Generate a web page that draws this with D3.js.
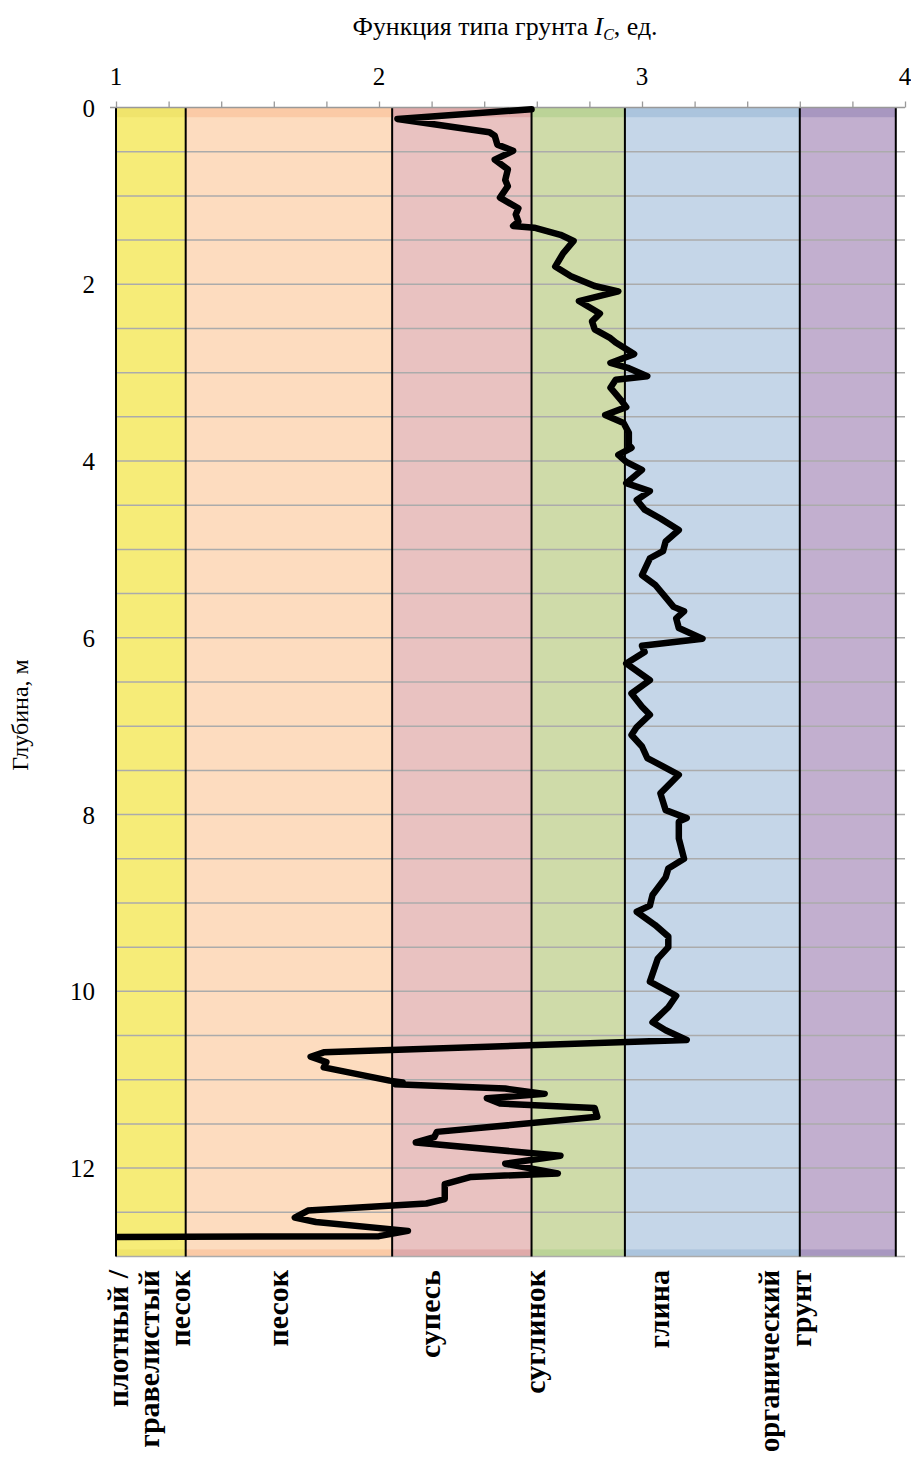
<!DOCTYPE html>
<html><head><meta charset="utf-8">
<script src="https://cdn.jsdelivr.net/npm/d3@7/dist/d3.min.js"></script>
<style>body{margin:0;background:#fff} svg{display:block}</style>
</head><body>
<svg id="c" width="911" height="1457"></svg>
<script>
// ---------- data ----------
const depth = [0.02,0.13,0.28,0.32,0.42,0.49,0.59,0.70,0.82,0.89,1.02,1.14,1.21,1.29,1.34,1.36,1.44,1.51,1.65,1.80,1.91,2.02,2.08,2.19,2.33,2.42,2.51,2.61,2.66,2.79,2.89,2.95,3.04,3.08,3.17,3.31,3.39,3.48,3.57,3.68,3.82,3.85,3.93,4.01,4.10,4.25,4.34,4.44,4.55,4.65,4.78,4.91,5.02,5.10,5.29,5.40,5.65,5.70,5.78,5.89,6.01,6.09,6.16,6.29,6.48,6.63,6.78,6.87,7.01,7.10,7.23,7.36,7.55,7.76,7.95,8.04,8.08,8.27,8.50,8.61,8.71,8.91,9.03,9.10,9.25,9.38,9.50,9.63,9.89,10.05,10.18,10.35,10.44,10.55,10.69,10.74,10.80,10.86,11.01,11.03,11.05,11.10,11.16,11.21,11.27,11.32,11.42,11.53,11.59,11.65,11.71,11.86,11.95,12.06,12.10,12.18,12.35,12.40,12.48,12.56,12.61,12.71,12.77,12.78];
const icValues = [2.58,2.07,2.42,2.44,2.45,2.51,2.44,2.49,2.48,2.49,2.46,2.53,2.52,2.53,2.51,2.59,2.69,2.74,2.70,2.67,2.73,2.82,2.91,2.76,2.84,2.81,2.82,2.88,2.90,2.97,2.88,2.95,3.02,2.90,2.88,2.92,2.94,2.86,2.93,2.95,2.95,2.96,2.91,2.94,3.00,2.94,3.03,2.98,3.01,3.07,3.14,3.09,3.08,3.03,3.00,3.05,3.12,3.16,3.13,3.14,3.23,3.00,3.01,2.94,3.03,2.96,3.00,3.03,2.98,2.96,3.00,3.02,3.14,3.07,3.09,3.17,3.14,3.14,3.16,3.10,3.09,3.04,3.03,2.98,3.05,3.10,3.10,3.06,3.03,3.13,3.10,3.04,3.09,3.17,1.79,1.74,1.80,1.79,2.04,2.09,2.06,2.48,2.63,2.41,2.46,2.82,2.83,2.44,2.22,2.21,2.14,2.69,2.48,2.68,2.35,2.25,2.25,2.18,1.73,1.68,1.76,2.11,2.00,0.98];
const zoneBounds = [1, 1.265, 2.05, 2.58, 2.935, 3.6, 3.965];
const zoneFill = ["#F6EC78","#FDDCBF","#E9C2C1","#CFDBA9","#C5D6E8","#C2AFCF"];
const zoneBand = ["#F0E46C","#FBCAA6","#DFAAA9","#BBD397","#ABC4DD","#A897C0"];
const zoneLabels = [["плотный /","гравелистый","песок"],["песок"],["супесь"],["суглинок"],["глина"],["органический","грунт"]];
const xTickLabels = [1,2,3,4];
const yTickLabels = [0,2,4,6,8,10,12];
const gridDepths = d3.range(0.5, 13.01, 0.5);

// ---------- layout ----------
const serif = "'Liberation Serif','Times New Roman',serif";
const svg = d3.select("#c");
const x = d3.scaleLinear().domain([1,4]).range([116,905]);
const y = d3.scaleLinear().domain([0,13]).range([107.5,1256.5]);

// zones
const zones = d3.range(zoneFill.length).map(i => ({a: zoneBounds[i], b: zoneBounds[i+1], f: zoneFill[i], band: zoneBand[i]}));
svg.append("g").selectAll("rect").data(zones).join("rect")
  .attr("x", d => x(d.a)).attr("width", d => x(d.b) - x(d.a))
  .attr("y", y(0)).attr("height", y(13) - y(0)).attr("fill", d => d.f);
svg.append("g").selectAll("rect").data(zones).join("rect")
  .attr("x", d => x(d.a)).attr("width", d => x(d.b) - x(d.a))
  .attr("y", y(0)).attr("height", y(0.11) - y(0)).attr("fill", d => d.band);
svg.append("g").selectAll("rect").data(zones).join("rect")
  .attr("x", d => x(d.a)).attr("width", d => x(d.b) - x(d.a))
  .attr("y", y(12.92)).attr("height", y(13) - y(12.92)).attr("fill", d => d.band);

// gridlines
svg.append("g").selectAll("line").data(gridDepths).join("line")
  .attr("x1", x(1)).attr("x2", x(4)).attr("y1", d => y(d)).attr("y2", d => y(d))
  .attr("stroke", "#ABABAB").attr("stroke-width", 1.5);

// zone borders
svg.append("g").selectAll("line").data(zoneBounds).join("line")
  .attr("x1", d => x(d)).attr("x2", d => x(d)).attr("y1", y(0)).attr("y2", y(13))
  .attr("stroke", "#000").attr("stroke-width", 2);

// top axis
const xAxis = d3.axisTop(x).tickValues(d3.range(1, 4.001, 0.2)).tickSize(6).tickFormat("");
const gx = svg.append("g").attr("transform", `translate(0,${y(0)})`).call(xAxis);
gx.select(".domain").attr("stroke", "#999").attr("stroke-width", 1.5).attr("d", `M${x(1)-6},0H${x(4)}`);
gx.selectAll(".tick line").attr("stroke", "#999").attr("stroke-width", 1.3);
svg.append("g").selectAll("text").data(xTickLabels).join("text")
  .attr("x", d => x(d)).attr("y", 85).attr("text-anchor", "middle")
  .attr("font-family", serif).attr("font-size", 25).text(d => d);

// left axis labels
svg.append("g").selectAll("text").data(yTickLabels).join("text")
  .attr("x", 95).attr("y", d => y(d) + 9).attr("text-anchor", "end")
  .attr("font-family", serif).attr("font-size", 25).text(d => d);

// curve
svg.append("clipPath").attr("id", "clip").append("rect")
  .attr("x", x(1)).attr("y", y(0) - 5).attr("width", x(4) - x(1)).attr("height", y(13) - y(0) + 10);
const pts = depth.map((d, i) => ({d, v: icValues[i]}));
svg.append("path").datum(pts).attr("clip-path", "url(#clip)")
  .attr("d", d3.line().x(p => x(p.v)).y(p => y(p.d)))
  .attr("fill", "none").attr("stroke", "#000").attr("stroke-width", 6.5)
  .attr("stroke-linejoin", "round").attr("stroke-linecap", "round");

// title
const title = svg.append("text").attr("x", 505).attr("y", 35).attr("text-anchor", "middle")
  .attr("font-family", serif).attr("font-size", 24);
title.append("tspan").text("Функция типа грунта ");
title.append("tspan").attr("font-style", "italic").text("I");
title.append("tspan").attr("font-style", "italic").attr("font-size", 16).attr("dy", 5).text("C");
title.append("tspan").attr("dy", -5).text(", ед.");
{
  const w = title.node().getComputedTextLength();
  title.attr("font-size", 24 * 306 / w);
}

// y title
svg.append("text").attr("transform", "translate(28,715) rotate(-90)")
  .attr("text-anchor", "middle").attr("font-family", serif).attr("font-size", 24)
  .text("Глубина, м");

// zone labels (rotated)
const labelBaselineX = [[128,159,190],[288],[440],[545],[669],[779,811]];
const lg = svg.append("g");
zoneLabels.forEach((lines, i) => {
  lines.forEach((t, j) => {
    const el = lg.append("text").attr("transform", `translate(${labelBaselineX[i][j]},1270) rotate(-90)`)
      .attr("text-anchor", "end").attr("font-family", serif).attr("font-weight", "bold")
      .attr("font-size", 30).text(t);
    const len = el.node().getComputedTextLength();
    if (len > 182) el.attr("textLength", 182).attr("lengthAdjust", "spacingAndGlyphs");
  });
});
</script>
</body></html>
